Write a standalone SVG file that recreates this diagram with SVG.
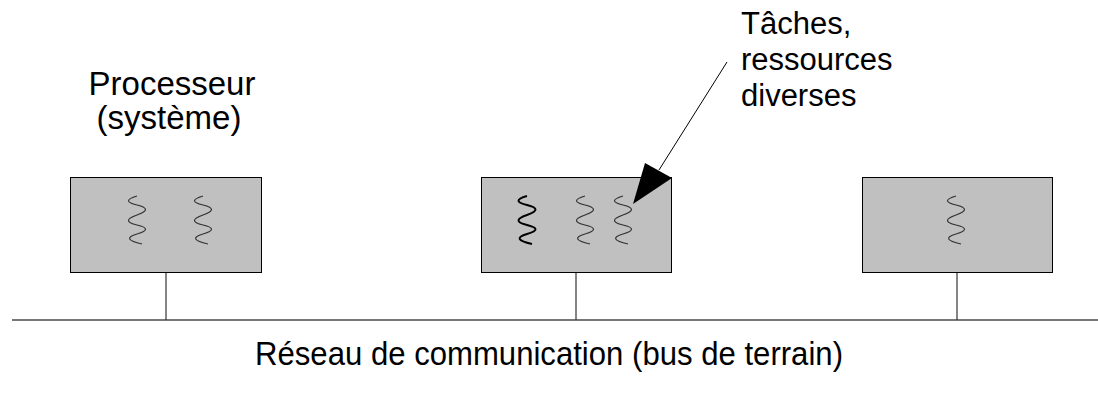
<svg xmlns="http://www.w3.org/2000/svg" xmlns:xlink="http://www.w3.org/1999/xlink" width="1098" height="398" viewBox="0 0 1098 398">
<style>
.box{fill:#c0c0c0;stroke:#000;stroke-width:1}
.stem{stroke:#333;stroke-width:1.2;fill:none}
.bus{stroke:#777;stroke-width:2;fill:none}
.coil{fill:none;stroke:#333;stroke-width:1.2}
.coil.bold{stroke:#000;stroke-width:2}
.t{font-family:"Liberation Sans",Arial,sans-serif;font-size:31px;fill:#000}
.big{font-size:33px}
</style>
<defs>
<path id="coil" d="M 0,0 Q -17,5 0,9 T 0,19 T 0,29 T 0,38 T 5,48"/>
</defs>
<rect width="1098" height="398" fill="#fff"/>
<g id="connectors">
<line class="bus" x1="12" y1="320" x2="1098" y2="320"/>
<line class="stem" x1="166" y1="272" x2="166" y2="320"/>
<line class="stem" x1="576" y1="272" x2="576" y2="320"/>
<line class="stem" x1="957" y1="272" x2="957" y2="320"/>
</g>
<g id="proc1">
<rect class="box" x="70.5" y="177.5" width="191" height="95"/>
<use href="#coil" xlink:href="#coil" class="coil" transform="translate(137,196)"/>
<use href="#coil" xlink:href="#coil" class="coil" transform="translate(203,196)"/>
</g>
<g id="proc2">
<rect class="box" x="481.5" y="177.5" width="190" height="95"/>
<use href="#coil" xlink:href="#coil" class="coil bold" transform="translate(527,196)"/>
<use href="#coil" xlink:href="#coil" class="coil" transform="translate(585,196)"/>
<use href="#coil" xlink:href="#coil" class="coil" transform="translate(623,196)"/>
</g>
<g id="proc3">
<rect class="box" x="862.5" y="177.5" width="190" height="95"/>
<use href="#coil" xlink:href="#coil" class="coil" transform="translate(956,196)"/>
</g>
<g id="label-proc">
<text class="t big" x="172" y="95" text-anchor="middle">Processeur</text>
<text class="t big" x="169" y="129" text-anchor="middle">(système)</text>
</g>
<g id="label-taches">
<text class="t" x="741" y="34">Tâches,</text>
<text class="t" x="741" y="70">ressources</text>
<text class="t" x="741" y="106">diverses</text>
</g>
<g id="arrow">
<line x1="727" y1="62" x2="659" y2="170" stroke="#000" stroke-width="1"/>
<polygon points="633,204 645,163 672,178" fill="#000"/>
</g>
<g id="label-bus">
<text class="t big" x="549" y="365" text-anchor="middle" textLength="588" lengthAdjust="spacingAndGlyphs">Réseau de communication (bus de terrain)</text>
</g>
</svg>
